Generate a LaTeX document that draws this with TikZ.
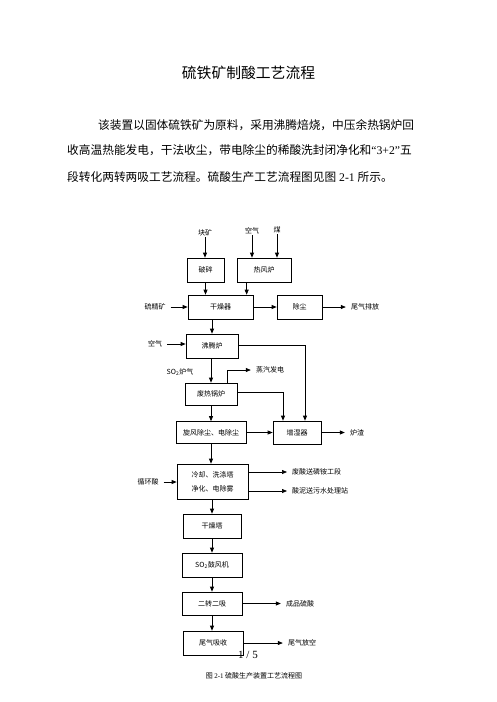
\documentclass[tikz,border=0pt]{standalone}
\usepackage{fontspec}
\setmainfont{Liberation Serif}
\newfontfamily\cjk{Noto Sans CJK SC}
\usetikzlibrary{arrows.meta}
\tikzset{
	box/.style={draw, line width=0.7pt, inner sep=0pt, font=\cjk\fontsize{7}{8}\selectfont},
	lbl/.style={inner xsep=5pt, inner ysep=1pt, font=\cjk\fontsize{7}{8}\selectfont},
	flow/.style={-{Triangle[length=5pt,width=4pt]}, line width=0.7pt},
	para/.style={anchor=west, inner sep=0pt, font=\fontsize{11.7}{14}\selectfont}
}

\begin{document}
\begin{tikzpicture}[x=1pt,y=-1pt]
	\useasboundingbox (0,0) rectangle (496,702);
	% title and text
	\node (title) at (248.5,73) {\cjk\fontsize{14.8}{16}\selectfont 硫铁矿制酸工艺流程};
	\node[para] (para1) at (98,125) {\cjk 该装置以固体硫铁矿为原料，采用沸腾焙烧，中压余热锅炉回};
	\node[para] (para2) at (67,150) {{\cjk 收高温热能发电，干法收尘，带电除尘的稀酸洗封闭净化和}“3+2”{\cjk 五}};
	\node[para] (para3) at (67,177) {{\cjk 段转化两转两吸工艺流程。硫酸生产工艺流程图见图} 2-1 {\cjk 所示。}};
	
	% boxes
	\node[box, minimum width=37pt, minimum height=24pt] (posui) at (205.5,270) {破碎};
	\node[box, minimum width=54pt, minimum height=24pt] (refeng) at (264,270) {热风炉};
	\node[box, minimum width=65pt, minimum height=24pt] (ganzao) at (220.5,307) {干燥器};
	\node[box, minimum width=45pt, minimum height=24pt] (chuchen) at (299.5,307) {除尘};
	\node[box, minimum width=52pt, minimum height=24pt] (feiteng) at (212,346) {沸腾炉};
	\node[box, minimum width=52pt, minimum height=22pt] (feire) at (211,394) {废热锅炉};
	\node[box, minimum width=70pt, minimum height=22pt] (xuanfeng) at (211,432.5) {旋风除尘、电除尘};
	\node[box, minimum width=48pt, minimum height=23pt] (zengshi) at (297,432.5) {增湿器};
	\node[box, minimum width=71pt, minimum height=35pt, align=center,
		font=\cjk\fontsize{7}{14}\selectfont] (lengque) at (212.5,481.5) {冷却、洗涤塔\\净化、电除雾};
	\node[box, minimum width=58pt, minimum height=24pt] (ganzaota) at (212,526) {干燥塔};
	\node[box, minimum width=60pt, minimum height=24pt] (gufeng) at (212,565) {SO\textsubscript{2}鼓风机};
	\node[box, minimum width=60pt, minimum height=23pt] (erzhuan) at (212,603.5) {二转二吸};
	\node[box, minimum width=60pt, minimum height=24pt] (weiqi) at (213,643) {尾气吸收};
	
	% labels
	\node[lbl] (kuaikuang) at (205,233) {块矿};
	\node[lbl] (kongqi1) at (252,231) {空气};
	\node[lbl] (mei) at (277,230) {煤};
	\node[lbl] (liujing) at (155,307) {硫精矿};
	\node[lbl] (paifang) at (365,307) {尾气排放};
	\node[lbl] (kongqi2) at (155,344) {空气};
	\node[lbl] (so2) at (180,372) {SO\textsubscript{2}炉气};
	\node[lbl] (zhengqi) at (270,370) {蒸汽发电};
	\node[lbl] (luzha) at (357,432.5) {炉渣};
	\node[lbl] (xunhuan) at (148,482) {循环酸};
	\node[lbl, anchor=west] (feisuan) at (287,472) {废酸送磷铵工段};
	\node[lbl, anchor=west] (suanni) at (287,491) {酸泥送污水处理站};
	\node[lbl] (chengpin) at (300,603.5) {成品硫酸};
	\node[lbl] (fangkong) at (302,643) {尾气放空};
	
	% connectors
	\coordinate (rfout) at ([xshift=10pt]refeng.south west);
	\coordinate (zsin1) at ([xshift=8pt]zengshi.north);
	\coordinate (zsin2) at ([xshift=-14pt]zengshi.north);
	\coordinate (zqout) at ([xshift=16pt]feire.north);
	\draw[flow] (kuaikuang.south) -- (kuaikuang.south |- posui.north);
	\draw[flow] (kongqi1.south) -- (kongqi1.south |- refeng.north);
	\draw[flow] (mei.south) -- (mei.south |- refeng.north);
	\draw[flow] (posui.south) -- (posui.south |- ganzao.north);
	\draw[flow] (rfout) -- (rfout |- ganzao.north);
	\draw[flow] (liujing.east) -- (ganzao.west);
	\draw[flow] (ganzao.east) -- (chuchen.west);
	\draw[flow] (chuchen.east) -- (paifang.west);
	\draw[flow] (feiteng.north |- ganzao.south) -- (feiteng.north);
	\draw[flow] (kongqi2.east) -- (kongqi2.east -| feiteng.west);
	\draw[flow] ([yshift=1pt]feiteng.east) -| (zsin1);
	\draw[flow] (feire.north |- feiteng.south) -- (feire.north);
	\draw[flow] (zqout) |- (zhengqi.west);
	\draw[flow] ([yshift=2pt]feire.east) -| (zsin2);
	\draw[flow] (feire.south) -- (feire.south |- xuanfeng.north);
	\draw[flow] (xuanfeng.east) -- (zengshi.west);
	\draw[flow] (zengshi.east) -- (luzha.west);
	\draw[flow] (xuanfeng.south) -- (xuanfeng.south |- lengque.north);
	\draw[flow] (xunhuan.east) -- (xunhuan.east -| lengque.west);
	\draw[flow] ([yshift=9.5pt]lengque.east) -- (feisuan.west);
	\draw[flow] ([yshift=-9.5pt]lengque.east) -- (suanni.west);
	\draw[flow] (lengque.south -| ganzaota.north) -- (ganzaota.north);
	\draw[flow] (ganzaota.south) -- (gufeng.north);
	\draw[flow] (gufeng.south) -- (erzhuan.north);
	\draw[flow] (erzhuan.south) -- (erzhuan.south |- weiqi.north);
	\draw[flow] (erzhuan.east) -- (chengpin.west);
	\draw[flow] (weiqi.east) -- (fangkong.west);
	
	\node (pagenum) at (248,655) {\fontsize{11}{12}\selectfont 1 / 5};
	\node (caption) at (254,676) {\cjk\fontsize{7}{8}\selectfont 图 {\rmfamily 2-1} 硫酸生产装置工艺流程图};
\end{tikzpicture}
\end{document}
